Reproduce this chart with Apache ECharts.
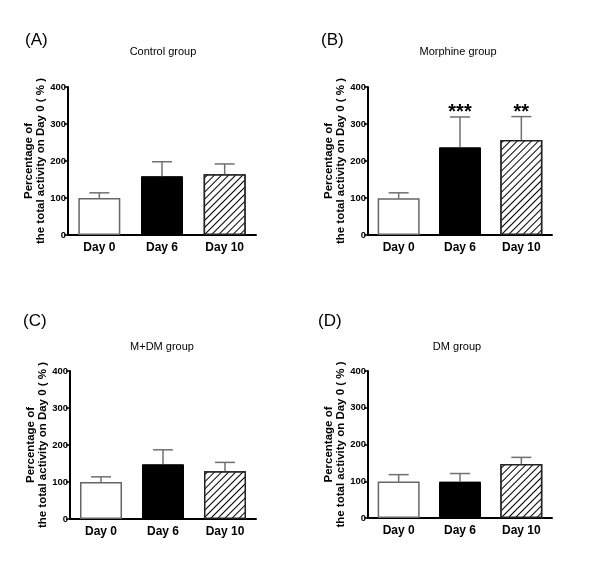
<!DOCTYPE html>
<html>
<head>
<meta charset="utf-8">
<script src="https://cdn.jsdelivr.net/npm/echarts@6/dist/echarts.min.js"></script>
<style>
html,body{margin:0;padding:0;background:#fff;}
#chart{width:600px;height:563px;}
</style>
</head>
<body>
<div id="chart"></div>
<script>
// ---- data ----
const categories = ['Day 0', 'Day 6', 'Day 10'];
const yTicks = [0, 100, 200, 300, 400];

const panelLetters = ['(A)', '(B)', '(C)', '(D)'];
const panelTitles = ['Control group', 'Morphine group', 'M+DM group', 'DM group'];

const controlMean = [100, 159, 164];
const controlErr  = [14, 39, 28];
const morphineMean = [99, 237, 257];
const morphineErr  = [15, 82, 63];
const mdmMean = [100, 148, 129];
const mdmErr  = [14, 39, 24];
const dmMean = [99, 99, 147];
const dmErr  = [19, 22, 18];

const controlSig  = ['', '', ''];
const morphineSig = ['', '***', '**'];
const mdmSig      = ['', '', ''];
const dmSig       = ['', '', ''];

const yAxisName = 'Percentage of\nthe total activity on Day 0 ( % )';

// ---- layout (styles/positions) ----
const panels = [
  {mean: controlMean,  err: controlErr,  sig: controlSig,  grid: {left: 68,  top: 87,  width: 188, height: 148}, letter: [25, 42],  title: [163, 52]},
  {mean: morphineMean, err: morphineErr, sig: morphineSig, grid: {left: 368, top: 87,  width: 184, height: 148}, letter: [321, 42], title: [458, 52]},
  {mean: mdmMean,      err: mdmErr,      sig: mdmSig,      grid: {left: 70,  top: 371, width: 186, height: 148}, letter: [23, 323], title: [162, 347]},
  {mean: dmMean,       err: dmErr,       sig: dmSig,       grid: {left: 368, top: 371, width: 184, height: 147}, letter: [318, 323], title: [457, 347]}
];

const barStyles = [
  {color: '#ffffff', borderColor: '#666666', borderWidth: 1.5},
  {color: '#000000', borderColor: '#000000', borderWidth: 1},
  {color: '#ffffff', borderColor: '#222222', borderWidth: 1.5,
   decal: {symbol: 'rect', symbolSize: 1, dashArrayX: [1, 0], dashArrayY: [1, 3.2], rotation: -Math.PI / 4, color: '#000000', backgroundColor: '#ffffff'}}
];

const grids = [], xAxes = [], yAxes = [], series = [], graphics = [];

panels.forEach((p, i) => {
  grids.push(Object.assign({containLabel: false}, p.grid));
  xAxes.push({
    type: 'category', gridIndex: i, data: categories,
    axisLine: {lineStyle: {color: '#000', width: 2}},
    axisTick: {show: false},
    axisLabel: {color: '#000', fontFamily: 'Liberation Sans, Arial, sans-serif', fontWeight: 'bold', fontSize: 12, margin: 7}
  });
  yAxes.push({
    type: 'value', gridIndex: i, min: yTicks[0], max: yTicks[yTicks.length - 1], interval: yTicks[1] - yTicks[0],
    axisLine: {show: true, lineStyle: {color: '#000', width: 2}},
    axisTick: {show: true, length: 4, lineStyle: {color: '#000', width: 1.5}},
    splitLine: {show: false},
    axisLabel: {color: '#000', fontFamily: 'Liberation Sans, Arial, sans-serif', fontWeight: 'bold', fontSize: 9.5, margin: 2},
    name: yAxisName, nameLocation: 'middle', nameRotate: 90, nameGap: 21, nameMoveOverlap: false,
    nameTextStyle: {color: '#000', fontFamily: 'Liberation Sans, Arial, sans-serif', fontWeight: 'bold', fontSize: 11.5, lineHeight: 12}
  });
  series.push({
    type: 'bar', xAxisIndex: i, yAxisIndex: i, barWidth: 42,
    data: p.mean.map((v, k) => ({value: v, itemStyle: barStyles[k]})),
    animation: false, z: 2
  });
  series.push({
    type: 'custom', xAxisIndex: i, yAxisIndex: i, z: 3, animation: false,
    data: p.mean.map((v, k) => [k, v, v + p.err[k]]),
    renderItem: (params, api) => {
      const idx = params.dataIndex;
      const base = api.coord([api.value(0), api.value(1)]);
      const top = api.coord([api.value(0), api.value(2)]);
      const cap = 10;
      const children = [
        {type: 'line', shape: {x1: base[0], y1: base[1], x2: top[0], y2: top[1]}, style: {stroke: '#707070', lineWidth: 1.5}},
        {type: 'line', shape: {x1: top[0] - cap, y1: top[1], x2: top[0] + cap, y2: top[1]}, style: {stroke: '#707070', lineWidth: 1.5}}
      ];
      const s = p.sig[idx];
      if (s) {
        children.push({type: 'text', x: top[0], y: top[1] - 4,
          style: {text: s, fill: '#000', font: 'bold 20px Liberation Sans, Arial, sans-serif', textAlign: 'center', textVerticalAlign: 'middle'}});
      }
      return {type: 'group', children: children};
    }
  });
  graphics.push({type: 'text', left: p.letter[0], top: p.letter[1] - 10,
    style: {text: panelLetters[i], fill: '#000', font: '17px Liberation Sans, Arial, sans-serif'}});
  graphics.push({type: 'text', x: p.title[0], y: p.title[1],
    style: {text: panelTitles[i], fill: '#000', font: '11px Liberation Sans, Arial, sans-serif', textAlign: 'center', textVerticalAlign: 'middle'}});
});

const chart = echarts.init(document.getElementById('chart'), null, {renderer: 'canvas'});
chart.setOption({
  backgroundColor: '#fff',
  animation: false,
  grid: grids, xAxis: xAxes, yAxis: yAxes, series: series, graphic: graphics
});
</script>
</body>
</html>
